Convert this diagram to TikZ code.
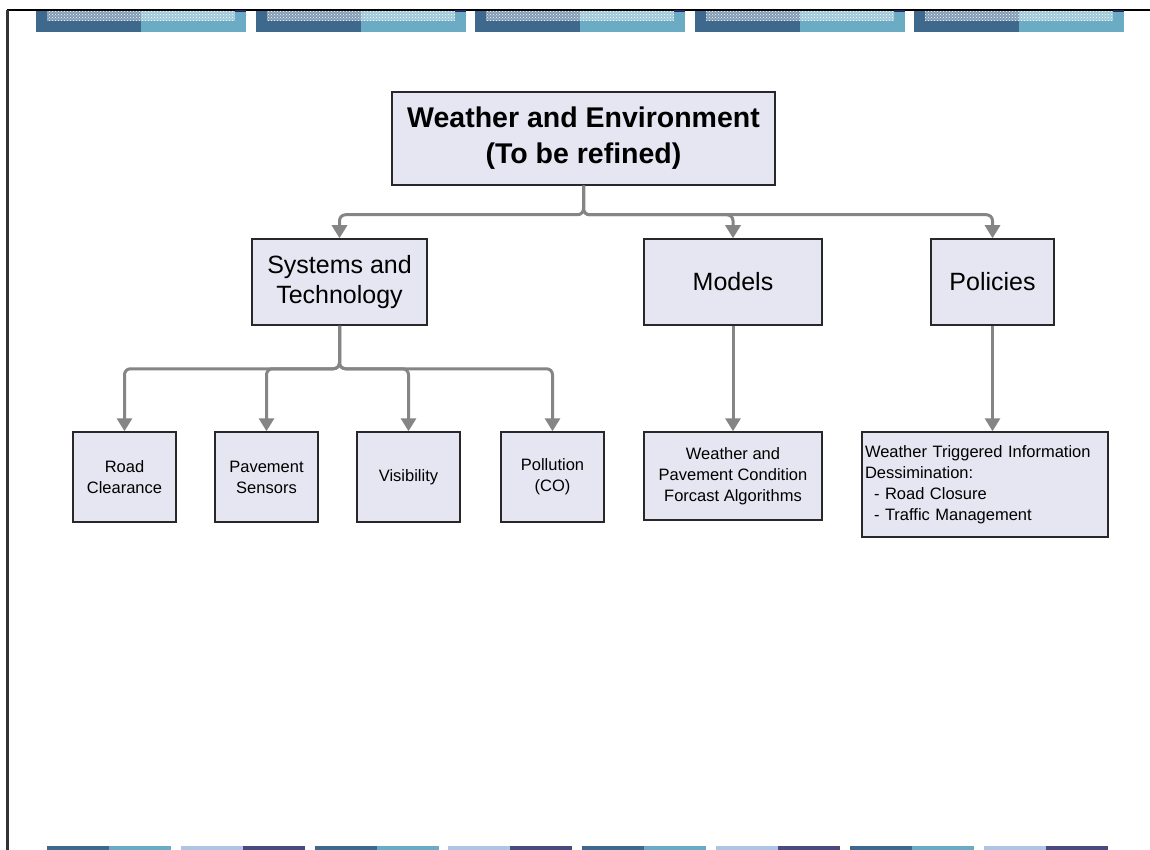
\documentclass[tikz,border=0pt]{standalone}
\usepackage{fontspec}
\setmainfont{Liberation Sans}
\usetikzlibrary{arrows.meta,patterns}

\definecolor{boxfill}{RGB}{230,230,242}
\definecolor{boxline}{RGB}{40,40,40}
\definecolor{connector}{RGB}{133,133,133}
\definecolor{bardark}{RGB}{62,104,140}
\definecolor{barcyan}{RGB}{108,171,196}
\definecolor{barpale}{RGB}{176,196,230}
\definecolor{barpurple}{RGB}{74,74,128}
\definecolor{barnavy}{RGB}{40,40,100}

\tikzset{
  box/.style={draw=boxline, line width=1.5pt, fill=boxfill, inner sep=0pt,
              align=center, text=black},
  titlefont/.style={font=\fontsize{28.5}{36}\selectfont\bfseries},
  midfont/.style={font=\fontsize{25}{30}\selectfont},
  leaffont/.style={font=\fontsize{16.5}{21}\selectfont},
  conn/.style={draw=connector, line width=3pt, rounded corners=6pt,
               -{Triangle[width=15pt,length=13pt]}},
}

\begin{document}
\begin{tikzpicture}[x=1pt,y=-1pt]
  % page area
  \fill[white] (0,0) rectangle (1150,850);
  \useasboundingbox (0,0) rectangle (1150,850);

  % page frame
  \draw[line width=1.2pt, black] (7,10) -- (1150,10);
  \draw[line width=2.5pt, black!80] (7.5,10) -- (7.5,850);

  % header band
  \foreach \x in {36,256,475,695,914} {
    \fill[bardark] (\x,11) rectangle (\x+105,32.5);
    \fill[barcyan] (\x+105,11) rectangle (\x+210,32.5);
    \fill[white, opacity=0.35] (\x+11,11) rectangle (\x+199,21);
    \fill[pattern=crosshatch dots, pattern color=white] (\x+11,11) rectangle (\x+199,21);
    \fill[barnavy] (\x+199,10.5) rectangle (\x+210,12.5);
  }

  % footer band
  \foreach \x/\ca/\cb in {47/bardark/barcyan, 181/barpale/barpurple,
                          315/bardark/barcyan, 448/barpale/barpurple,
                          582/bardark/barcyan, 716/barpale/barpurple,
                          850/bardark/barcyan, 984/barpale/barpurple} {
    \fill[\ca] (\x,846) rectangle (\x+62,850);
    \fill[\cb] (\x+62,846) rectangle (\x+124,850);
  }

  % hierarchy
  \node[box, titlefont, minimum width=383pt, minimum height=93pt] (top) at (583.5,138.5)
    {Weather and Environment\\(To be refined)};

  \node[box, midfont, minimum width=175pt, minimum height=86pt] (sys) at (339.5,282)
    {Systems and\\Technology};
  \node[box, midfont, minimum width=178pt, minimum height=86pt] (mod) at (733,282)
    {Models};
  \node[box, midfont, minimum width=123pt, minimum height=86pt] (pol) at (992.5,282)
    {Policies};

  \node[box, leaffont, minimum width=103pt, minimum height=90pt] (road) at (124.5,477)
    {Road\\Clearance};
  \node[box, leaffont, minimum width=103pt, minimum height=90pt] (pave) at (266.5,477)
    {Pavement\\Sensors};
  \node[box, leaffont, minimum width=103pt, minimum height=90pt] (vis) at (408.5,477)
    {Visibility};
  \node[box, leaffont, minimum width=103pt, minimum height=90pt] (poll) at (552.5,477)
    {Pollution\\(CO)};

  \node[box, leaffont, minimum width=178pt, minimum height=88pt] (fca) at (733,476)
    {Weather and\\Pavement Condition\\Forcast Algorithms};

  \node[box, leaffont, minimum width=246pt, minimum height=105pt,
        text width=240pt, align=left, inner xsep=3pt] (wti) at (985,484.5)
    {Weather Triggered Information\\Dessimination:\\
     \hspace*{9pt}- Road Closure\\\hspace*{9pt}- Traffic Management};

  % connectors
  \foreach \c in {sys,mod,pol}
    \draw[conn] (top.south) -- ++(0,29) -| (\c.north);
  \foreach \c in {road,pave,vis,poll}
    \draw[conn] (sys.south) -- ++(0,43) -| (\c.north);
  \draw[conn] (mod.south) -- (fca.north);
  \draw[conn] (pol.south) -- (pol.south |- wti.north);
\end{tikzpicture}
\end{document}
